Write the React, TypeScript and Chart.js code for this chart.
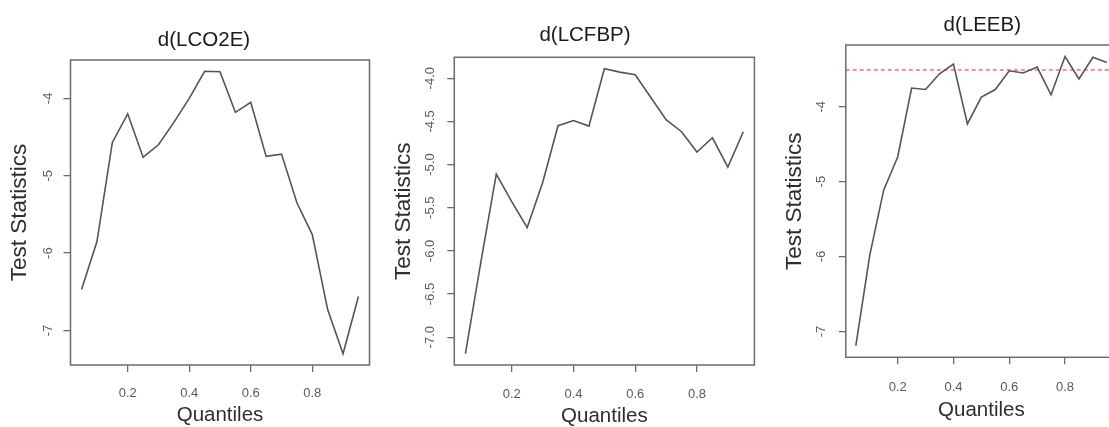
import React, { useEffect, useRef } from "react";
import { Chart, registerables } from "chart.js";

Chart.register(...registerables);

// ---------- data ----------
const quantiles = [0.05, 0.1, 0.15, 0.2, 0.25, 0.3, 0.35, 0.4, 0.45, 0.5, 0.55, 0.6, 0.65, 0.7, 0.75, 0.8, 0.85, 0.9, 0.95];

const lco2eStats = [-6.47, -5.85, -4.57, -4.2, -4.76, -4.6, -4.31, -4.0, -3.65, -3.655, -4.18, -4.05, -4.75, -4.72, -5.35, -5.76, -6.73, -7.3, -6.56];
const lcfbpStats = [-7.19, -6.13, -5.11, -5.43, -5.73, -5.21, -4.55, -4.49, -4.555, -3.89, -3.93, -3.96, -4.22, -4.48, -4.62, -4.855, -4.69, -5.03, -4.62];
const leebStats = [-7.19, -5.98, -5.11, -4.67, -3.75, -3.77, -3.56, -3.43, -4.23, -3.87, -3.77, -3.52, -3.55, -3.47, -3.84, -3.33, -3.63, -3.34, -3.41];
const leebCritical = -3.51;

const panelTitles = ["d(LCO2E)", "d(LCFBP)", "d(LEEB)"];
const xAxisTitle = "Quantiles";
const yAxisTitle = "Test Statistics";

const xTicks = [0.2, 0.4, 0.6, 0.8];
const xTickLabels = ["0.2", "0.4", "0.6", "0.8"];

const lco2eYTicks = [-4, -5, -6, -7];
const lco2eYLabels = ["-4", "-5", "-6", "-7"];
const lcfbpYTicks = [-4, -4.5, -5, -5.5, -6, -6.5, -7];
const lcfbpYLabels = ["-4.0", "-4.5", "-5.0", "-5.5", "-6.0", "-6.5", "-7.0"];
const leebYTicks = [-4, -5, -6, -7];
const leebYLabels = ["-4", "-5", "-6", "-7"];

// ---------- layout / style ----------
const W = 1109;
const H = 427;
const FONT = "'Liberation Sans', Arial, Helvetica, sans-serif";
const TICK_LEN = 7;
const TICK_SIZE = 13;
const TITLE_SIZE = 20.5;
const XTITLE_SIZE = 20.5;
const YTITLE_SIZE = 22.5;

type Layout = {
  cx: number; cw: number;
  L: number; R: number; T: number; B: number;
  titleX: number; titleY: number;
  yTitleX: number; xTitleY: number;
  yTickX: number; xTickY: number;
};

type PanelDef = {
  title: string;
  values: number[];
  yTicks: number[];
  yLabels: string[];
  crit: number | null;
  layout: Layout;
};

const panels: PanelDef[] = [
  {
    title: panelTitles[0], values: lco2eStats, yTicks: lco2eYTicks, yLabels: lco2eYLabels, crit: null,
    layout: { cx: 0, cw: 380, L: 70.5, R: 369.5, T: 60, B: 365, titleX: 204, titleY: 46, yTitleX: 19.5, xTitleY: 415.5, yTickX: 48.3, xTickY: 393 },
  },
  {
    title: panelTitles[1], values: lcfbpStats, yTicks: lcfbpYTicks, yLabels: lcfbpYLabels, crit: null,
    layout: { cx: 380, cw: 380, L: 454.3, R: 754.4, T: 57.3, B: 365, titleX: 585, titleY: 41, yTitleX: 403.3, xTitleY: 416.5, yTickX: 430, xTickY: 394 },
  },
  {
    title: panelTitles[2], values: leebStats, yTicks: leebYTicks, yLabels: leebYLabels, crit: leebCritical,
    layout: { cx: 760, cw: 370, L: 845.8, R: 1116.9, T: 45, B: 357.3, titleX: 982.3, titleY: 31, yTitleX: 795, xTitleY: 410, yTickX: 821.7, xTickY: 387 },
  },
];

function rRange(vals: number[]): [number, number] {
  const mn = Math.min(...vals);
  const mx = Math.max(...vals);
  const ext = (mx - mn) * 0.04;
  return [mn - ext, mx + ext];
}

const boxPlugin = {
  id: "rbox",
  afterDraw(chart: any) {
    const { ctx, chartArea: a } = chart;
    ctx.save();
    ctx.strokeStyle = "#6b6b6b";
    ctx.lineWidth = 1.5;
    ctx.strokeRect(a.left, a.top, a.right - a.left, a.bottom - a.top);
    ctx.restore();
  },
};

function Panel({ p }: { p: PanelDef }) {
  const ref = useRef<HTMLCanvasElement>(null);
  const lay = p.layout;

  useEffect(() => {
    const canvas = ref.current;
    if (!canvas) return;
    const meas = document.createElement("canvas").getContext("2d")!;
    meas.font = `normal ${TICK_SIZE}px ${FONT}`;
    const widest = Math.max(...p.yLabels.map((s) => meas.measureText(s).width));
    const yPad = lay.L - lay.yTickX - TICK_LEN - widest / 2;
    const xPad = lay.xTickY - lay.B - TICK_LEN - TICK_SIZE / 2;

    const [xMin, xMax] = rRange(quantiles);
    const [yMin, yMax] = rRange(p.values);

    const datasets: any[] = [
      {
        data: quantiles.map((q, i) => ({ x: q, y: p.values[i] })),
        borderColor: "#555555",
        borderWidth: 1.6,
        pointRadius: 0,
        tension: 0,
        fill: false,
      },
    ];
    if (p.crit !== null) {
      datasets.push({
        data: [
          { x: xMin, y: p.crit },
          { x: xMax, y: p.crit },
        ],
        borderColor: "rgba(255,80,80,0.85)",
        borderWidth: 1.6,
        borderDash: [4, 3],
        pointRadius: 0,
        fill: false,
      });
    }

    const titlePlugin = {
      id: "rtitle",
      afterDraw(chart: any) {
        const ctx = chart.ctx;
        ctx.save();
        ctx.font = `normal ${TITLE_SIZE}px ${FONT}`;
        ctx.fillStyle = "#1a1a1a";
        ctx.textAlign = "center";
        ctx.textBaseline = "alphabetic";
        ctx.fillText(p.title, lay.titleX - lay.cx, lay.titleY);
        ctx.restore();
      },
    };

    const chart = new Chart(canvas, {
      type: "line",
      data: { datasets },
      plugins: [boxPlugin, titlePlugin],
      options: {
        animation: false,
        responsive: false,
        maintainAspectRatio: false,
        devicePixelRatio: 1,
        layout: {
          padding: { left: 0, right: lay.cw - (lay.R - lay.cx), top: lay.T, bottom: 0 },
        },
        plugins: {
          legend: { display: false },
          tooltip: { enabled: false },
          title: { display: false },
        },
        scales: {
          x: {
            type: "linear",
            position: "bottom",
            min: xMin,
            max: xMax,
            afterBuildTicks: (axis: any) => {
              axis.ticks = xTicks.map((v) => ({ value: v }));
            },
            afterFit: (axis: any) => {
              axis.height = H - lay.B;
            },
            grid: {
              display: true,
              drawOnChartArea: false,
              drawTicks: true,
              tickLength: TICK_LEN,
              tickColor: "#6b6b6b",
              lineWidth: 1.3,
            },
            border: { display: false },
            ticks: {
              autoSkip: false,
              maxRotation: 0,
              minRotation: 0,
              padding: xPad,
              color: "#5a5a5a",
              font: { family: FONT, size: TICK_SIZE, lineHeight: 1 },
              callback: (v: any) => {
                const i = xTicks.findIndex((t) => Math.abs(t - Number(v)) < 1e-9);
                return i >= 0 ? xTickLabels[i] : "";
              },
            },
            title: {
              display: true,
              text: xAxisTitle,
              color: "#2e2e2e",
              font: { family: FONT, size: XTITLE_SIZE, lineHeight: 1 },
              padding: { top: 0, bottom: H - XTITLE_SIZE / 2 - lay.xTitleY },
            },
          },
          y: {
            type: "linear",
            position: "left",
            min: yMin,
            max: yMax,
            afterBuildTicks: (axis: any) => {
              axis.ticks = p.yTicks.map((v) => ({ value: v }));
            },
            afterFit: (axis: any) => {
              axis.width = lay.L - lay.cx;
            },
            grid: {
              display: true,
              drawOnChartArea: false,
              drawTicks: true,
              tickLength: TICK_LEN,
              tickColor: "#6b6b6b",
              lineWidth: 1.3,
            },
            border: { display: false },
            ticks: {
              autoSkip: false,
              minRotation: 90,
              maxRotation: 90,
              crossAlign: "center",
              padding: yPad,
              color: "#5a5a5a",
              font: { family: FONT, size: TICK_SIZE, lineHeight: 1 },
              callback: (v: any) => {
                const i = p.yTicks.findIndex((t) => Math.abs(t - Number(v)) < 1e-9);
                return i >= 0 ? p.yLabels[i] : "";
              },
            },
            title: {
              display: true,
              text: yAxisTitle,
              color: "#2e2e2e",
              font: { family: FONT, size: YTITLE_SIZE, lineHeight: 1 },
              padding: { top: lay.yTitleX - lay.cx - YTITLE_SIZE / 2, bottom: 0 },
            },
          },
        },
      } as any,
    });
    return () => chart.destroy();
  }, []);

  return (
    <canvas
      ref={ref}
      width={lay.cw}
      height={H}
      style={{ position: "absolute", left: lay.cx, top: 0, width: lay.cw, height: H }}
    />
  );
}

export default function App() {
  return (
    <div
      style={{
        position: "fixed",
        left: 0,
        top: 0,
        width: W,
        height: H,
        overflow: "hidden",
        background: "#ffffff",
      }}
    >
      {panels.map((p, i) => (
        <Panel key={i} p={p} />
      ))}
    </div>
  );
}
